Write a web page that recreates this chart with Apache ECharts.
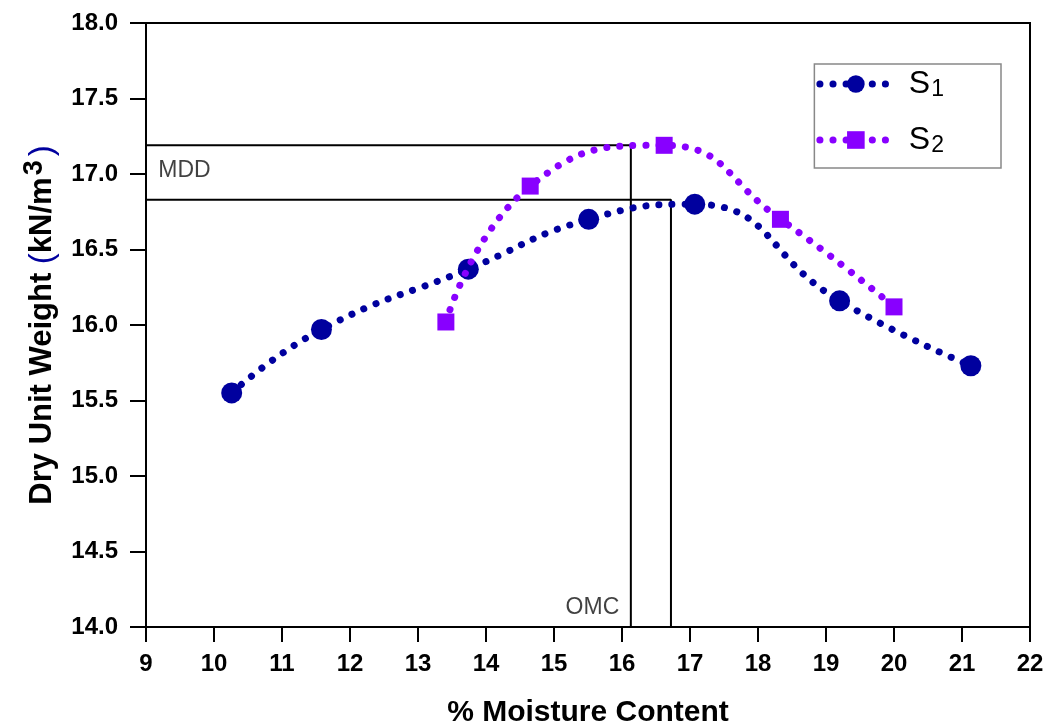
<!DOCTYPE html>
<html>
<head>
<meta charset="utf-8">
<script src="https://cdn.jsdelivr.net/npm/echarts@6/dist/echarts.min.js"></script>
<style>
  html, body { margin: 0; padding: 0; background: #fff; }
  #chart { width: 1047px; height: 727px; }
</style>
</head>
<body>
<div id="chart"></div>
<script>
// Compaction test results: moisture content (%) vs dry unit weight (kN/m3)
const s1Moisture = [10.26, 11.58, 13.74, 15.51, 17.07, 19.20, 21.13];
const s1Weight   = [15.55, 15.97, 16.37, 16.70, 16.80, 16.16, 15.73];
const s2Moisture = [13.41, 14.65, 16.62, 18.33, 20.00];
const s2Weight   = [16.02, 16.92, 17.19, 16.70, 16.12];

// Optimum moisture content and maximum dry density
const omcValues = [16.13, 16.72];
const mddValues = [17.19, 16.83];

const xTicks = [9, 10, 11, 12, 13, 14, 15, 16, 17, 18, 19, 20, 21, 22];
const yTicks = [14.0, 14.5, 15.0, 15.5, 16.0, 16.5, 17.0, 17.5, 18.0];

const FONT = 'Liberation Sans, Arial, sans-serif';
const BLUE = '#00009E';
const PURPLE = '#8800FF';

const zip = (xs, ys) => xs.map((x, i) => [x, ys[i]]);

const xMin = xTicks[0], xMax = xTicks[xTicks.length - 1];
const yMin = yTicks[0], yMax = yTicks[yTicks.length - 1];

// Guide lines from the y axis to the curve peak and down to the x axis
const guideSeries = omcValues.map((omc, i) => ({
  type: 'line',
  name: 'guide' + i,
  data: [[xMin, mddValues[i]], [omc, mddValues[i]], [omc, yMin]],
  symbol: 'none',
  lineStyle: { color: '#000', width: 2 },
  silent: true,
  z: 1
}));

const DOTS = [0.1, 13];
const dotted = (color) => ({ color: color, width: 7, type: DOTS, cap: 'round' });

const chart = echarts.init(document.getElementById('chart'), null, { renderer: 'canvas' });

chart.setOption({
  animation: false,
  backgroundColor: '#fff',
  grid: {
    left: 146, right: 17, top: 23, bottom: 100,
    outerBoundsMode: 'none',
    show: true, borderColor: '#000', borderWidth: 2
  },
  legend: {
    data: ['S1', 'S2'],
    right: 46, top: 64,
    orient: 'vertical',
    backgroundColor: '#fff',
    borderColor: '#888', borderWidth: 1.5,
    padding: [3, 57, 11, 2],
    itemWidth: 72, itemHeight: 22, itemGap: 22,
    lineStyle: { width: 7, type: DOTS, cap: 'round' },
    formatter: (name) => '{s|S}{sub|' + name.slice(1) + '}',
    textStyle: {
      fontFamily: FONT, fontSize: 32, color: '#000', lineHeight: 34,
      rich: {
        s: { fontFamily: FONT, fontSize: 32, color: '#000', padding: [0, 0, 0, 12] },
        sub: { fontFamily: FONT, fontSize: 23, color: '#000', verticalAlign: 'bottom', padding: [22, 0, 0, 1] }
      }
    }
  },
  xAxis: {
    type: 'value',
    min: xMin, max: xMax, interval: 1,
    name: '% Moisture Content',
    nameLocation: 'middle', nameGap: 71, nameMoveOverlap: false,
    nameTextStyle: { fontFamily: FONT, fontSize: 30, fontWeight: 'bold', color: '#000' },
    axisLine: { show: true, lineStyle: { color: '#000', width: 2 } },
    axisTick: { show: true, inside: false, length: 15, lineStyle: { color: '#000', width: 2 } },
    axisLabel: { fontFamily: FONT, fontSize: 24, fontWeight: 'bold', color: '#000', margin: 25 },
    splitLine: { show: false }
  },
  yAxis: {
    type: 'value',
    min: yMin, max: yMax, interval: 0.5,
    name: '{a|Dry Unit Weight }{p|(}{a|kN/m}{s|3}{p|)}',
    nameLocation: 'middle', nameGap: 82, nameRotate: 90, nameMoveOverlap: false,
    nameTextStyle: {
      fontFamily: FONT, fontSize: 31, fontWeight: 'bold', color: '#000',
      rich: {
        a: { fontFamily: FONT, fontSize: 31, fontWeight: 'bold', color: '#000' },
        p: { fontFamily: FONT, fontSize: 33, fontWeight: 'normal', color: BLUE },
        s: { fontFamily: FONT, fontSize: 27, fontWeight: 'bold', color: '#000', verticalAlign: 'top', padding: [0, 4, 16, 2] }
      }
    },
    axisLine: { show: true, lineStyle: { color: '#000', width: 2 } },
    axisTick: { show: true, inside: false, length: 16, lineStyle: { color: '#000', width: 2 } },
    axisLabel: {
      fontFamily: FONT, fontSize: 24, fontWeight: 'bold', color: '#000', margin: 28,
      formatter: (v) => v.toFixed(1)
    },
    splitLine: { show: false }
  },
  series: [
    ...guideSeries,
    {
      type: 'scatter',
      name: 'labels',
      silent: true,
      symbolSize: 0,
      data: [
        { value: [9.18, 17.02], label: { show: true, formatter: 'MDD', position: 'right', distance: 0 } },
        { value: [15.96, 14.13], label: { show: true, formatter: 'OMC', position: 'left', distance: 0 } }
      ],
      label: { fontFamily: FONT, fontSize: 23, color: '#111' },
      z: 2
    },
    {
      type: 'line',
      name: 'S1',
      data: zip(s1Moisture, s1Weight),
      smooth: 0.5,
      symbol: 'circle',
      symbolSize: 21,
      itemStyle: { color: BLUE },
      lineStyle: dotted(BLUE),
      z: 3
    },
    {
      type: 'line',
      name: 'S2',
      data: zip(s2Moisture, s2Weight),
      smooth: 0.5,
      symbol: 'rect',
      symbolSize: 17,
      itemStyle: { color: PURPLE },
      lineStyle: dotted(PURPLE),
      z: 4
    }
  ]
});
</script>
</body>
</html>
